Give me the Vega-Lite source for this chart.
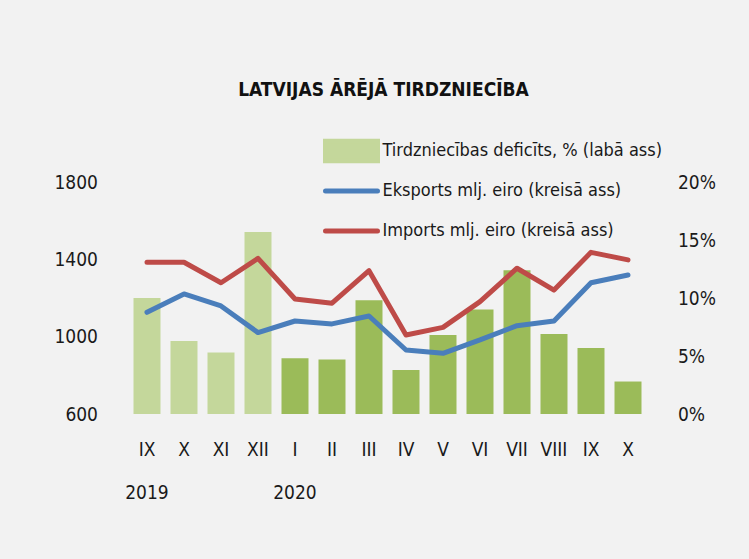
{
  "$schema": "https://vega.github.io/schema/vega-lite/v6.json",
  "width": 518,
  "height": 232,
  "autosize": {"type": "none"},
  "padding": {"left": 128.5, "top": 182, "right": 102.5, "bottom": 145},
  "background": "#f2f2f2",
  "title": {
    "text": "LATVIJAS ĀRĒJĀ TIRDZNIECĪBA",
    "anchor": "middle",
    "offset": 42,
    "dx": -4,
    "font": "DejaVu Sans Condensed",
    "fontSize": 19,
    "fontWeight": "bold",
    "color": "#111111"
  },
  "data": {
    "values": [
      {"period": "2019-09|IX|2019", "year": "2019", "deficit": 0.100, "Eksports": 1126, "Imports": 1385},
      {"period": "2019-10|X|", "year": "2019", "deficit": 0.063, "Eksports": 1221, "Imports": 1385},
      {"period": "2019-11|XI|", "year": "2019", "deficit": 0.053, "Eksports": 1159, "Imports": 1279},
      {"period": "2019-12|XII|", "year": "2019", "deficit": 0.157, "Eksports": 1021, "Imports": 1405},
      {"period": "2020-01|I|2020", "year": "2020", "deficit": 0.048, "Eksports": 1081, "Imports": 1195},
      {"period": "2020-02|II|", "year": "2020", "deficit": 0.047, "Eksports": 1066, "Imports": 1173},
      {"period": "2020-03|III|", "year": "2020", "deficit": 0.098, "Eksports": 1107, "Imports": 1341},
      {"period": "2020-04|IV|", "year": "2020", "deficit": 0.038, "Eksports": 931, "Imports": 1009},
      {"period": "2020-05|V|", "year": "2020", "deficit": 0.068, "Eksports": 914, "Imports": 1048},
      {"period": "2020-06|VI|", "year": "2020", "deficit": 0.090, "Eksports": 983, "Imports": 1181},
      {"period": "2020-07|VII|", "year": "2020", "deficit": 0.124, "Eksports": 1057, "Imports": 1354},
      {"period": "2020-08|VIII|", "year": "2020", "deficit": 0.069, "Eksports": 1081, "Imports": 1241},
      {"period": "2020-09|IX|", "year": "2020", "deficit": 0.057, "Eksports": 1279, "Imports": 1436},
      {"period": "2020-10|X|", "year": "2020", "deficit": 0.028, "Eksports": 1319, "Imports": 1397}
    ]
  },
  "encoding": {
    "x": {
      "field": "period",
      "type": "nominal",
      "sort": null,
      "scale": {"paddingInner": 0.27, "paddingOuter": 0.135},
      "axis": {
        "title": null,
        "labelExpr": "slice(split(datum.value, '|'), 1)",
        "labelAngle": 0,
        "labelPadding": 26,
        "labelLineHeight": 43,
        "labelBaseline": "top"
      }
    }
  },
  "layer": [
    {
      "mark": {"type": "bar"},
      "encoding": {
        "y": {
          "field": "deficit",
          "type": "quantitative",
          "scale": {"domain": [0, 0.2]},
          "axis": {"orient": "right", "values": [0, 0.05, 0.1, 0.15, 0.2], "format": ".0%", "title": null, "labelPadding": 31}
        },
        "color": {"condition": {"test": "datum.year === '2019'", "value": "#c4d79b"}, "value": "#9bbb59"}
      }
    },
    {
      "transform": [{"fold": ["Eksports", "Imports"], "as": ["series", "val"]}],
      "mark": {"type": "line", "strokeWidth": 5, "strokeCap": "round", "strokeJoin": "round"},
      "encoding": {
        "y": {
          "field": "val",
          "type": "quantitative",
          "scale": {"domain": [600, 1800]},
          "axis": {"orient": "left", "values": [600, 1000, 1400, 1800], "format": "d", "title": null, "labelPadding": 31}
        },
        "color": {
          "field": "series",
          "type": "nominal",
          "scale": {"domain": ["Deficits", "Eksports", "Imports"], "range": ["#c4d79b", "#4a7ebb", "#be4b48"]},
          "legend": {
            "title": null,
            "orient": "none",
            "legendX": 214,
            "legendY": -40,
            "direction": "vertical",
            "padding": 0,
            "symbolSize": 169,
            "labelOffset": 22,
            "rowPadding": 0,
            "labelFont": "DejaVu Sans Condensed",
            "labelFontSize": 18,
            "labelColor": "#1a1a1a",
            "labelLimit": 400,
            "labelExpr": "datum.value === 'Deficits' ? 'Tirdzniecības deficīts, % (labā ass)' : datum.value === 'Eksports' ? 'Eksports mlj. eiro (kreisā ass)' : 'Imports mlj. eiro (kreisā ass)'",
            "encoding": {
              "symbols": {
                "shape": {"value": {"expr": "datum.value === 'Deficits' ? 'M-4,-1.5H4V1.5H-4Z' : 'M-4,-1.5M-4,0H4M4,1.5'"}},
                "fill": {"value": {"expr": "datum.value === 'Deficits' ? '#c4d79b' : 'transparent'"}},
                "stroke": {"value": {"expr": "datum.value === 'Deficits' ? 'transparent' : datum.value === 'Eksports' ? '#4a7ebb' : '#be4b48'"}},
                "strokeWidth": {"value": 5},
                "strokeCap": {"value": "round"},
                "opacity": {"value": 1}
              }
            }
          }
        }
      }
    }
  ],
  "resolve": {"scale": {"y": "independent", "color": "independent"}},
  "config": {
    "view": {"stroke": null},
    "axis": {
      "domain": false,
      "ticks": false,
      "grid": false,
      "labelFont": "DejaVu Sans Condensed",
      "labelFontSize": 19,
      "labelColor": "#1a1a1a"
    },
    "legend": {"labelFont": "DejaVu Sans Condensed"}
  }
}
